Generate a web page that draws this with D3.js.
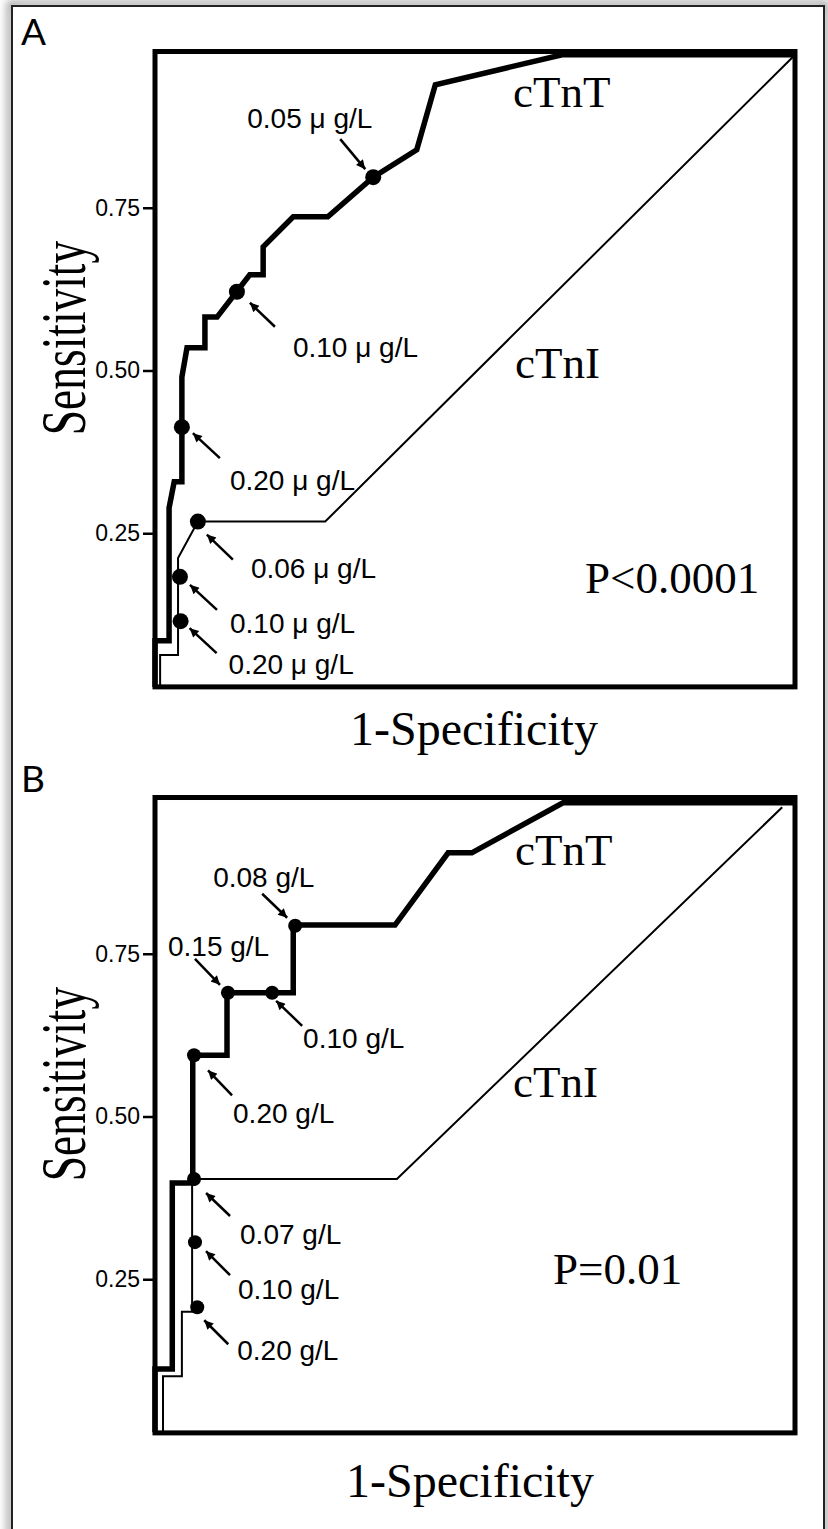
<!DOCTYPE html>
<html lang="en">
<head>
<meta charset="UTF-8">
<title>ROC curves: cTnT vs cTnI</title>
<script src="https://cdnjs.cloudflare.com/ajax/libs/d3/7.8.5/d3.min.js"></script>
<style>
    body { margin: 0; padding: 0; background: #fff; }
    svg { display: block; }
    .tick text { font-family: "Liberation Sans", Arial, sans-serif; font-size: 23px; fill: #000; }
    .tick line { stroke: #000; stroke-width: 2.5px; }
    .serif { font-family: "Liberation Serif", "Times New Roman", serif; fill: #000; }
    .note { font-family: "Liberation Sans", Arial, sans-serif; font-size: 28px; fill: #000; }
    .letter { font-family: Lato, "Open Sans", sans-serif; font-size: 37px; fill: #000; }
</style>
</head>
<body>
<div id="chart"></div>
<script>
const width = 828, height = 1529;

const yTicks = [0.25, 0.50, 0.75];
const panelNames = ["A", "B"];
const pLabels = ["P<0.0001", "P=0.01"];

// panel A, points are [1-specificity, sensitivity]
const cTnT_A = [[0, 0.014], [0, 0.085], [0.022, 0.085], [0.022, 0.289], [0.030, 0.329], [0.042, 0.329],
    [0.042, 0.490], [0.050, 0.535], [0.078, 0.535], [0.078, 0.582], [0.097, 0.582], [0.148, 0.647],
    [0.169, 0.647], [0.169, 0.690], [0.216, 0.736], [0.270, 0.736], [0.341, 0.797], [0.409, 0.839],
    [0.438, 0.939], [0.636, 0.985], [1, 0.985]];
const cTnI_A = [[0.008, 0.014], [0.008, 0.063], [0.036, 0.063], [0.036, 0.212], [0.067, 0.268],
    [0.266, 0.268], [0.997, 0.982]];
const cutA_fpr = [0.042, 0.128, 0.341, 0.067, 0.039, 0.040];
const cutA_sens = [0.413, 0.621, 0.797, 0.268, 0.183, 0.115];
const cutA_text = ["0.20 μ g/L", "0.10 μ g/L", "0.05 μ g/L", "0.06 μ g/L", "0.10 μ g/L", "0.20 μ g/L"];

// panel B
const cTnT_B = [[0, 0.015], [0, 0.112], [0.027, 0.112], [0.027, 0.398], [0.059, 0.398], [0.059, 0.594],
    [0.1125, 0.594], [0.1125, 0.690], [0.216, 0.690], [0.216, 0.794], [0.375, 0.794], [0.458, 0.905],
    [0.495, 0.905], [0.6375, 0.982], [0.997, 0.982]];
const cTnI_B = [[0.0125, 0.015], [0.0125, 0.101], [0.042, 0.101], [0.042, 0.200], [0.058, 0.200],
    [0.058, 0.404], [0.378, 0.404], [0.980, 0.975]];
const cutB_fpr = [0.061, 0.114, 0.183, 0.219, 0.061, 0.0625, 0.066];
const cutB_sens = [0.594, 0.690, 0.690, 0.793, 0.404, 0.307, 0.207];
const cutB_text = ["0.20 g/L", "0.15 g/L", "0.10 g/L", "0.08 g/L", "0.07 g/L", "0.10 g/L", "0.20 g/L"];

// arrow + label placement, px offsets from the dot: tail, tip, text
const noteLayout = [
    [[38, 31, 11, 6, 48, 63], [38, 35, 13, 11, 56, 65], [-33, -38, -8, -8, -126, -49],
     [35, 38, 9, 13, 53, 56], [37, 33, 10, 8, 50, 56], [36, 32, 9, 7, 48, 53]],
    [[38, 40, 14, 15, 39, 68], [-33, -34, -8, -8, -60, -37], [30, 33, 4, 8, 31, 55],
     [-33, -32, -8, -8, -82, -39], [36, 37, 12, 14, 46, 65], [35, 33, 11, 9, 43, 57],
     [31, 37, 7, 13, 40, 53]]
];

const panels = [
    { tnt: cTnT_A, tni: cTnI_A, fpr: cutA_fpr, sens: cutA_sens, text: cutA_text, dotR: 8,
      top: 0, tntPos: [513, 107], tniPos: [515, 378], pPos: [585, 593], xTitle: [474, 745] },
    { tnt: cTnT_B, tni: cTnI_B, fpr: cutB_fpr, sens: cutB_text ? cutB_sens : [], text: cutB_text, dotR: 7,
      top: 746, tntPos: [515, 119], tniPos: [513, 351], pPos: [553, 538], xTitle: [470, 751] }
];

const svg = d3.select("#chart").append("svg")
    .attr("width", width)
    .attr("height", height);

const defs = svg.append("defs");
defs.append("filter").attr("id", "shadow")
    .attr("x", "-5%").attr("y", "-5%").attr("width", "110%").attr("height", "110%")
    .append("feGaussianBlur").attr("stdDeviation", 4);
defs.append("marker")
    .attr("id", "arrow")
    .attr("viewBox", "0 0 10 10")
    .attr("refX", 10).attr("refY", 5)
    .attr("markerUnits", "userSpaceOnUse")
    .attr("markerWidth", 12).attr("markerHeight", 9)
    .attr("orient", "auto")
    .append("path").attr("d", "M0,0L10,5L0,10z").attr("fill", "#000");

svg.append("rect").attr("width", width).attr("height", height).attr("fill", "#fff");
svg.append("rect")
    .attr("x", 10).attr("y", 4).attr("width", 816).attr("height", 1560)
    .attr("fill", "none").attr("stroke", "#999").attr("stroke-width", 6)
    .attr("filter", "url(#shadow)");
svg.append("rect")
    .attr("x", 12).attr("y", 6).attr("width", 812).attr("height", 1560)
    .attr("fill", "#fff").attr("stroke", "#222").attr("stroke-width", 2);

const x = d3.scaleLinear().domain([0, 1]).range([155, 795]);

panels.forEach((p, i) => {
    const g = svg.append("g").attr("transform", `translate(0,${p.top})`);
    const y = d3.scaleLinear().domain([0, 1]).range([696, 45]);

    const line = d3.line().x(d => x(d[0])).y(d => y(d[1]));

    // y axis ticks only, the box is drawn separately
    const axis = g.append("g")
        .attr("transform", `translate(${x(0) - 2},0)`)
        .call(d3.axisLeft(y).tickValues(yTicks).tickSize(10).tickPadding(3).tickFormat(d3.format(".2f")));
    axis.select(".domain").remove();
    axis.selectAll(".tick text").attr("font-family", null).attr("font-size", null);

    g.append("path").datum(p.tni)
        .attr("d", line).attr("fill", "none").attr("stroke", "#000")
        .attr("stroke-width", 2).attr("stroke-linejoin", "miter");
    g.append("path").datum(p.tnt)
        .attr("d", line).attr("fill", "none").attr("stroke", "#000")
        .attr("stroke-width", 5.5).attr("stroke-linejoin", "miter");

    g.append("rect")
        .attr("x", x(0)).attr("y", y(0.99))
        .attr("width", x(1) - x(0)).attr("height", y(0.014) - y(0.99))
        .attr("fill", "none").attr("stroke", "#000").attr("stroke-width", 5);

    const cuts = p.fpr.map((f, k) => ({ fpr: f, sens: p.sens[k], text: p.text[k], lay: noteLayout[i][k] }));

    g.selectAll("circle.cut").data(cuts).enter().append("circle")
        .attr("class", "cut")
        .attr("cx", d => x(d.fpr)).attr("cy", d => y(d.sens)).attr("r", p.dotR)
        .attr("fill", "#000");

    g.selectAll("line.arrow").data(cuts).enter().append("line")
        .attr("class", "arrow")
        .attr("x1", d => x(d.fpr) + d.lay[0]).attr("y1", d => y(d.sens) + d.lay[1])
        .attr("x2", d => x(d.fpr) + d.lay[2]).attr("y2", d => y(d.sens) + d.lay[3])
        .attr("stroke", "#000").attr("stroke-width", 2.5)
        .attr("marker-end", "url(#arrow)");

    g.selectAll("text.note").data(cuts).enter().append("text")
        .attr("class", "note")
        .attr("x", d => x(d.fpr) + d.lay[4]).attr("y", d => y(d.sens) + d.lay[5])
        .text(d => d.text);

    g.append("text").attr("class", "serif").attr("font-size", 45)
        .attr("x", p.tntPos[0]).attr("y", p.tntPos[1]).text("cTnT");
    g.append("text").attr("class", "serif").attr("font-size", 45)
        .attr("x", p.tniPos[0]).attr("y", p.tniPos[1]).text("cTnI");
    g.append("text").attr("class", "serif").attr("font-size", 45)
        .attr("x", p.pPos[0]).attr("y", p.pPos[1]).text(pLabels[i]);

    g.append("text").attr("class", "serif").attr("font-size", 48)
        .attr("text-anchor", "middle")
        .attr("x", p.xTitle[0]).attr("y", p.xTitle[1]).text("1-Specificity");

    g.append("text").attr("class", "serif").attr("font-size", 64)
        .attr("text-anchor", "middle")
        .attr("transform", "translate(85,338) rotate(-90) scale(0.71,1)")
        .text("Sensitivity");

    g.append("text").attr("class", "letter")
        .attr("x", 21).attr("y", 45 + (i ? 1 : 0)).text(panelNames[i]);
});
</script>
</body>
</html>
